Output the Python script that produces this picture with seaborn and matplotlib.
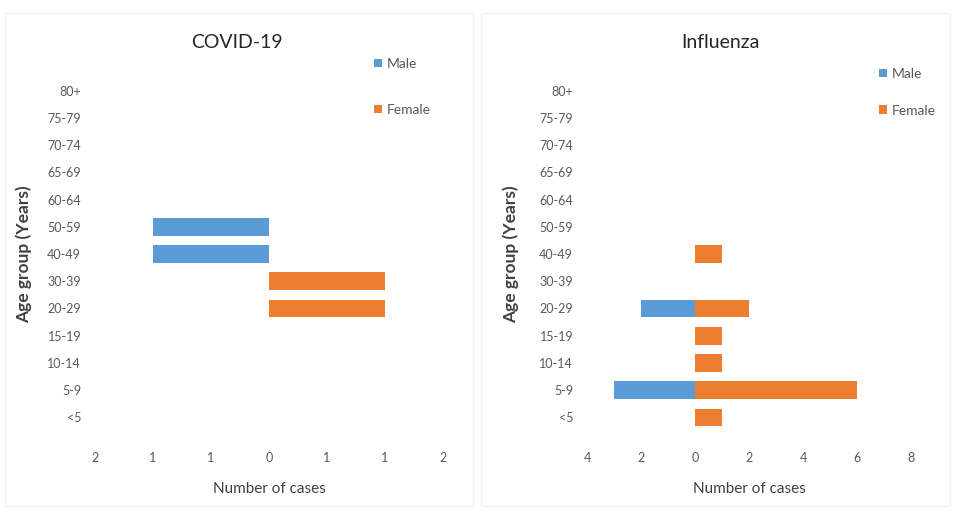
import numpy as np
import pandas as pd
import matplotlib
matplotlib.use("Agg")
import matplotlib.pyplot as plt
import seaborn as sns
from matplotlib.patches import Rectangle
from matplotlib.ticker import FixedLocator, FuncFormatter

# ================================
# Data
# ================================
age_groups = ["80+", "75-79", "70-74", "65-69", "60-64", "50-59", "40-49",
              "30-39", "20-29", "15-19", "10-14", "5-9", "<5"]

covid_male = [0, 0, 0, 0, 0, 1, 1, 0, 0, 0, 0, 0, 0]
covid_female = [0, 0, 0, 0, 0, 0, 0, 1, 1, 0, 0, 0, 0]

flu_male = [0, 0, 0, 0, 0, 0, 0, 0, 2, 0, 0, 3, 0]
flu_female = [0, 0, 0, 0, 0, 0, 1, 0, 2, 1, 1, 6, 1]

covid_ticks = [-1.5, -1, -0.5, 0, 0.5, 1, 1.5]
flu_ticks = [-4, -2, 0, 2, 4, 6, 8]

titles = ["COVID-19", "Influenza"]
colors = {"Male": "#5B9BD5", "Female": "#ED7D31"}


def make_frame(male, female):
    # male to the left, female to the right
    df = pd.DataFrame({
        "age": age_groups * 2,
        "cases": [-v for v in male] + list(female),
        "sex": ["Male"] * len(age_groups) + ["Female"] * len(age_groups),
    })
    return df


sns.set_style("white")
plt.rcParams["font.family"] = ["Lato", "DejaVu Sans"]

fig = plt.figure(figsize=(9.54, 5.12), dpi=100)
W, H = 954, 512

# faint chart-area borders like the Excel export
for x0, x1 in [(5, 473), (481, 950)]:
    fig.patches.append(Rectangle((x0 / W, 1 - 506 / H), (x1 - x0) / W, (506 - 13) / H,
                                 transform=fig.transFigure, fill=False,
                                 edgecolor="#f0f0f0", linewidth=1))

panels = [
    dict(male=covid_male, female=covid_female, ticks=covid_ticks,
         left=95, right=443, title_x=237, leg=(367, 51), lspace=2.45, ylab_x=32),
    dict(male=flu_male, female=flu_female, ticks=flu_ticks,
         left=587, right=911, title_x=720, leg=(872, 61), lspace=1.78, ylab_x=519),
]

top, bottom = 77, 431

for p, title in zip(panels, titles):
    ax = fig.add_axes([p["left"] / W, 1 - bottom / H,
                       (p["right"] - p["left"]) / W, (bottom - top) / H])
    df = make_frame(p["male"], p["female"])
    sns.barplot(data=df, x="cases", y="age", hue="sex", order=age_groups,
                hue_order=["Male", "Female"], palette=colors, orient="h",
                dodge=False, width=0.65, ax=ax, saturation=1, linewidth=0)
    ax.set_xlim(p["ticks"][0], p["ticks"][-1])
    ax.set_ylim(12.5, -0.5)
    ax.xaxis.set_major_locator(FixedLocator(p["ticks"]))
    ax.xaxis.set_major_formatter(FuncFormatter(lambda v, pos: str(int(abs(v) + 0.5))))
    for s in ax.spines.values():
        s.set_visible(False)
    ax.tick_params(axis="both", length=0, labelsize=9, labelcolor="#595959")
    ax.tick_params(axis="x", pad=15)
    ax.tick_params(axis="y", pad=10)
    ax.set_xlabel("Number of cases", fontsize=11, color="#404040", labelpad=13)
    ax.set_ylabel("Age group (Years)", fontsize=12.5, color="#404040", fontweight="bold")
    ax.yaxis.set_label_coords((p["ylab_x"] - p["left"]) / (p["right"] - p["left"]), 0.5)

    handles, labels = ax.get_legend_handles_labels()
    ax.legend(handles, labels, loc="upper left",
              bbox_to_anchor=(p["leg"][0] / W, 1 - p["leg"][1] / H),
              bbox_transform=fig.transFigure, frameon=False, fontsize=10,
              labelcolor="#595959", handlelength=0.6, handleheight=0.6,
              handletextpad=0.3, borderpad=0, labelspacing=p["lspace"])

    fig.text(p["title_x"] / W, 1 - 42 / H, title, ha="center", va="center",
             fontsize=14, color="#262626")

fig.savefig("out.png", dpi=100)
